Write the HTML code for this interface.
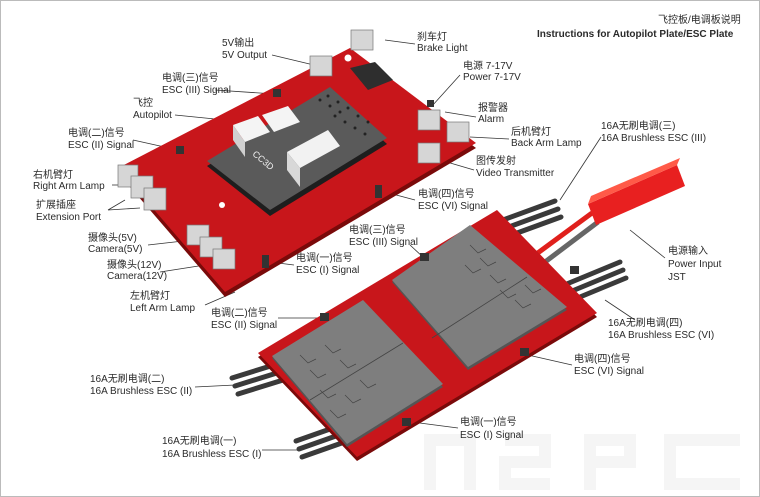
<!DOCTYPE html>
<html><head><meta charset="utf-8"><style>
html,body{margin:0;padding:0;background:#fff}
svg{display:block}
text{font-family:"Liberation Sans","Noto Sans CJK SC",sans-serif;font-size:10px;fill:#2a2a2a}
</style></head><body>
<svg width="760" height="497" viewBox="0 0 760 497">
<rect x="0.5" y="0.5" width="759" height="496" fill="#fff" stroke="#bbb"/>
<!-- watermark -->
<g fill="none" stroke="#f5f5f5" stroke-width="12">
<path d="M430 490 L430 440 L470 440 L470 490"/><path d="M505 440 L545 440 L545 462 L505 462 L505 484 L550 484"/>
<path d="M590 490 L590 440 L630 440 L630 462 L595 462"/><path d="M740 440 L670 440 L670 484 L740 484"/>
</g>

<!-- connector lines -->
<g stroke="#333" stroke-width="0.8" fill="none">
<path d="M272 55 L318 66"/><path d="M385 40 L415 44"/><path d="M215 90 L275 94"/>
<path d="M460 75 L432 106"/><path d="M175 115 L245 122"/><path d="M476 117 L445 112"/>
<path d="M133 140 L178 150"/><path d="M509 139 L470 137"/><path d="M474 170 L440 160"/>
<path d="M112 185 L122 185"/><path d="M415 200 L385 192"/><path d="M108 210 L125 200 M108 210 L140 208"/>
<path d="M601 137 L560 200"/><path d="M410 245 L424 258"/><path d="M148 245 L192 240"/>
<path d="M160 272 L205 265"/><path d="M294 265 L270 262"/><path d="M665 258 L630 230"/>
<path d="M205 305 L235 292"/><path d="M278 318 L318 318"/><path d="M635 320 L605 300"/>
<path d="M572 365 L528 355"/><path d="M195 387 L235 385"/><path d="M458 428 L412 422"/><path d="M262 450 L300 450"/>
</g>

<!-- top board -->
<polygon points="118,173 225,297 476,148 350,53" fill="#7a0a0a"/>
<polygon points="118,168 225,292 476,143 350,48" fill="#c8161b"/>
<circle cx="348" cy="58" r="3.5" fill="#fff"/><circle cx="222" cy="205" r="3" fill="#fff"/>
<!-- autopilot module -->
<polygon points="207,166 270,216 387,144 330,92" fill="#1e1e1e"/>
<polygon points="207,161 270,210 387,138 330,87" fill="#5a5a5a"/>
<polygon points="233,125 245,142 270,132 258,116" fill="#f4f4f4"/>
<polygon points="233,125 245,142 245,157 233,140" fill="#d0d0d0"/>
<polygon points="262,115 274,132 300,122 288,106" fill="#f4f4f4"/>
<polygon points="287,152 300,168 340,146 328,130" fill="#f2f2f2"/>
<polygon points="287,152 300,168 300,187 287,170" fill="#d8d8d8"/>
<text x="250" y="160" style="font-size:9px;fill:#eee" transform="rotate(40 258 160)">CC3D</text>
<g fill="#222"><circle cx="320" cy="100" r="1.5"/><circle cx="330" cy="106" r="1.5"/><circle cx="340" cy="112" r="1.5"/><circle cx="328" cy="96" r="1.5"/><circle cx="338" cy="102" r="1.5"/><circle cx="348" cy="108" r="1.5"/><circle cx="345" cy="122" r="1.5"/><circle cx="355" cy="128" r="1.5"/><circle cx="365" cy="134" r="1.5"/><circle cx="335" cy="116" r="1.5"/><circle cx="358" cy="116" r="1.5"/><circle cx="368" cy="122" r="1.5"/></g>
<!-- sockets -->
<g fill="#d6d6d6" stroke="#777" stroke-width="0.7">
<rect x="310" y="56" width="22" height="20"/><rect x="351" y="30" width="22" height="20"/>
<rect x="118" y="165" width="20" height="22"/><rect x="131" y="176" width="22" height="22"/><rect x="144" y="188" width="22" height="22"/>
<rect x="187" y="225" width="22" height="20"/><rect x="200" y="237" width="22" height="20"/><rect x="213" y="249" width="22" height="20"/>
<rect x="418" y="110" width="22" height="20"/><rect x="447" y="122" width="22" height="20"/><rect x="418" y="143" width="22" height="20"/>
</g>
<polygon points="350,68 375,62 393,80 368,90" fill="#2e2e2e"/>
<g fill="#333"><rect x="273" y="89" width="8" height="8"/><rect x="176" y="146" width="8" height="8"/><rect x="375" y="185" width="7" height="13"/><rect x="262" y="255" width="7" height="13"/><rect x="427" y="100" width="7" height="7"/></g>

<!-- ESC cables -->
<g stroke="#3a3a3a" stroke-width="5" stroke-linecap="round">
<path d="M470 232 L555 201"/><path d="M473 240 L558 209"/><path d="M476 248 L561 217"/>
<path d="M540 295 L620 262"/><path d="M543 303 L623 270"/><path d="M546 311 L626 278"/>
<path d="M232 378 L290 360"/><path d="M235 386 L293 368"/><path d="M238 394 L296 376"/>
<path d="M296 441 L350 422"/><path d="M299 449 L353 430"/><path d="M302 457 L356 438"/>
</g>
<path d="M535 255 L592 213" stroke="#e0201c" stroke-width="5"/>
<path d="M545 262 L598 222" stroke="#666" stroke-width="5"/>
<polygon points="588,204 677,165 685,186 596,225" fill="#e82020"/>
<polygon points="588,204 677,165 680,158 591,196" fill="#ff5a48"/>

<!-- ESC board -->
<polygon points="497,214 597,317 357,461 258,357" fill="#7a0a0a"/>
<polygon points="497,210 597,313 357,457 258,353" fill="#c8161b"/>
<polygon points="392,282 470,227 567,310 468,370" fill="#555"/>
<polygon points="392,280 470,225 567,307 468,367" fill="#7e7e7e"/>
<polygon points="272,358 363,302 443,387 347,447" fill="#555"/>
<polygon points="272,356 363,300 443,384 347,444" fill="#7e7e7e"/>
<path d="M432 338 L527 277 M310 400 L403 343" stroke="#444" stroke-width="0.8"/>
<g stroke="#444" stroke-width="0.7" fill="none">
<path d="M470 245 l8 8 l8 -4 M480 258 l8 8 l8 -4 M465 265 l8 8 l8 -4 M490 275 l8 8 l8 -4 M500 290 l8 8 l8 -4 M515 300 l8 8 l8 -4 M525 285 l8 8 l8 -4"/>
<path d="M300 355 l8 8 l8 -4 M310 370 l8 8 l8 -4 M325 345 l8 8 l8 -4 M340 360 l8 8 l8 -4 M320 390 l8 8 l8 -4 M345 395 l8 8 l8 -4 M360 380 l8 8 l8 -4 M330 410 l8 8 l8 -4"/>
</g>
<g fill="#333"><rect x="420" y="253" width="9" height="8"/><rect x="570" y="266" width="9" height="8"/><rect x="320" y="313" width="9" height="8"/><rect x="520" y="348" width="9" height="8"/><rect x="402" y="418" width="9" height="8"/></g>

<!-- title -->
<text x="658" y="23">飞控板/电调板说明</text>
<text x="537" y="37" style="font-weight:bold">Instructions for Autopilot Plate/ESC Plate</text>

<!-- labels -->
<text x="222" y="46">5V输出</text><text x="222" y="58">5V Output</text>
<text x="417" y="40">刹车灯</text><text x="417" y="51">Brake Light</text>
<text x="162" y="81">电调(三)信号</text><text x="162" y="93">ESC (III) Signal</text>
<text x="463" y="69">电源 7-17V</text><text x="463" y="80">Power 7-17V</text>
<text x="133" y="106">飞控</text><text x="133" y="118">Autopilot</text>
<text x="478" y="111">报警器</text><text x="478" y="122">Alarm</text>
<text x="68" y="136">电调(二)信号</text><text x="68" y="148">ESC (II) Signal</text>
<text x="511" y="135">后机臂灯</text><text x="511" y="146">Back Arm Lamp</text>
<text x="476" y="164">图传发射</text><text x="476" y="176">Video Transmitter</text>
<text x="33" y="178">右机臂灯</text><text x="33" y="189">Right Arm Lamp</text>
<text x="418" y="197">电调(四)信号</text><text x="418" y="209">ESC (VI) Signal</text>
<text x="36" y="208">扩展插座</text><text x="36" y="220">Extension Port</text>
<text x="601" y="129">16A无刷电调(三)</text><text x="601" y="141">16A Brushless ESC (III)</text>
<text x="349" y="233">电调(三)信号</text><text x="349" y="245">ESC (III) Signal</text>
<text x="88" y="241">摄像头(5V)</text><text x="88" y="252">Camera(5V)</text>
<text x="107" y="268">摄像头(12V)</text><text x="107" y="279">Camera(12V)</text>
<text x="296" y="261">电调(一)信号</text><text x="296" y="273">ESC (I) Signal</text>
<text x="668" y="254">电源输入</text><text x="668" y="267">Power Input</text><text x="668" y="280">JST</text>
<text x="130" y="299">左机臂灯</text><text x="130" y="311">Left Arm Lamp</text>
<text x="211" y="316">电调(二)信号</text><text x="211" y="328">ESC (II) Signal</text>
<text x="608" y="326">16A无刷电调(四)</text><text x="608" y="338">16A Brushless ESC (VI)</text>
<text x="574" y="362">电调(四)信号</text><text x="574" y="374">ESC (VI) Signal</text>
<text x="90" y="382">16A无刷电调(二)</text><text x="90" y="394">16A Brushless ESC (II)</text>
<text x="460" y="425">电调(一)信号</text><text x="460" y="438">ESC (I) Signal</text>
<text x="162" y="444">16A无刷电调(一)</text><text x="162" y="457">16A Brushless ESC (I)</text>
</svg>
</body></html>
